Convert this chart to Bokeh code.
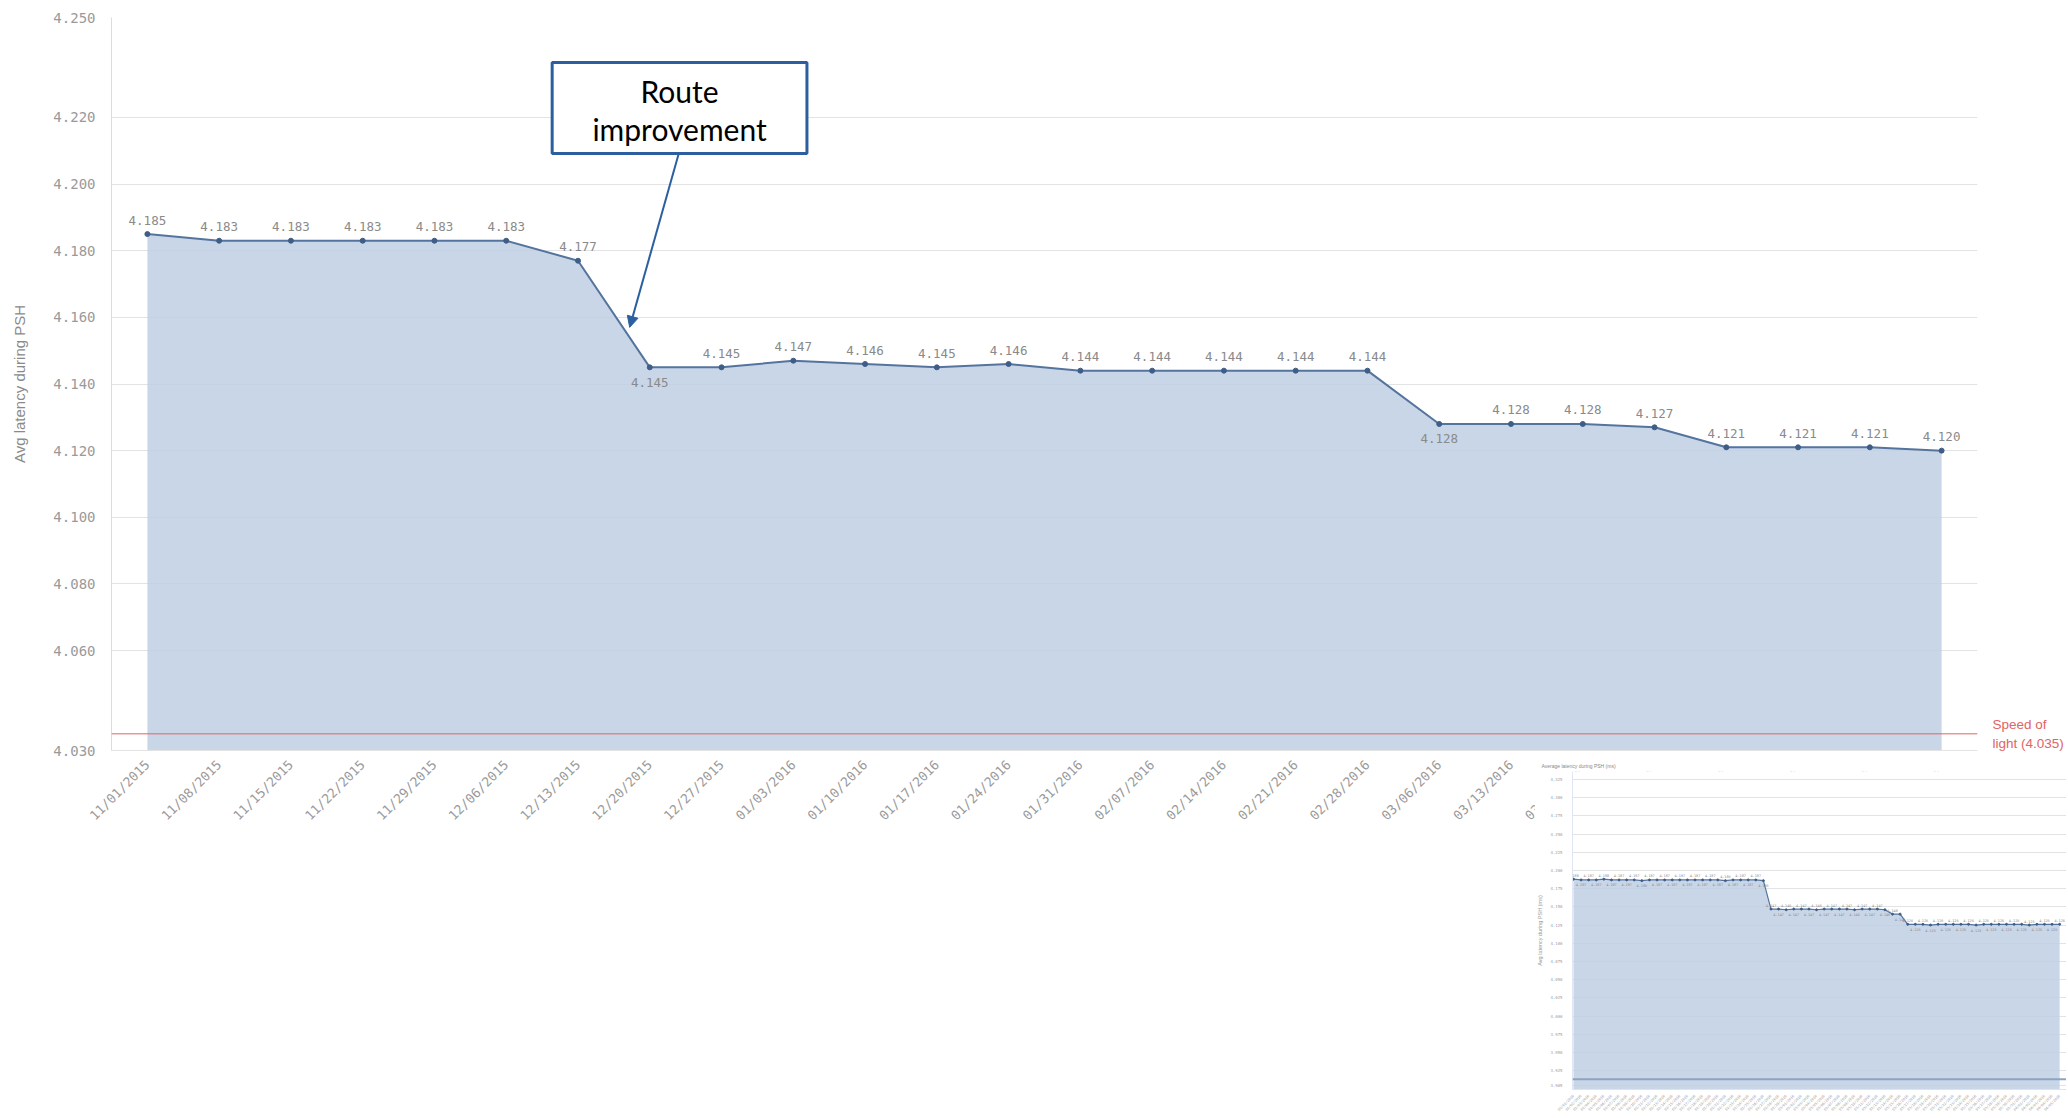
from math import pi
from bokeh.plotting import figure
from bokeh.models import (Range1d, FixedTicker, NumeralTickFormatter, ColumnDataSource,
                          BoxAnnotation, Label, LabelSet, Arrow, NormalHead, Span, LinearAxis, Spacer)
from bokeh.layouts import column, row
from bokeh.embed import file_html
from bokeh.resources import INLINE
from bokeh.core.properties import value

# ---------------- data: main chart ----------------
dates = ["11/01/2015", "11/08/2015", "11/15/2015", "11/22/2015", "11/29/2015", "12/06/2015",
         "12/13/2015", "12/20/2015", "12/27/2015", "01/03/2016", "01/10/2016", "01/17/2016",
         "01/24/2016", "01/31/2016", "02/07/2016", "02/14/2016", "02/21/2016", "02/28/2016",
         "03/06/2016", "03/13/2016", "03/20/2016", "03/27/2016", "04/03/2016", "04/10/2016",
         "04/17/2016", "04/24/2016"]
latency = [4.185, 4.183, 4.183, 4.183, 4.183, 4.183, 4.177, 4.145, 4.145, 4.147, 4.146, 4.145,
           4.146, 4.144, 4.144, 4.144, 4.144, 4.144, 4.128, 4.128, 4.128, 4.127, 4.121, 4.121,
           4.121, 4.120]
labels_below = [7, 18]
y_ticks = [4.030, 4.060, 4.080, 4.100, 4.120, 4.140, 4.160, 4.180, 4.200, 4.220, 4.250]
y_min, y_max = 4.030, 4.250
speed_of_light = 4.035
speed_text = "Speed of\nlight (4.035)"
y_title = "Avg latency during PSH"
note_text = "Route\nimprovement"

# ---------------- data: inset thumbnail ----------------
inset_title = "Average latency during PSH (ms)"
inset_dates = [
    "02/01/2016", "02/02/2016", "02/03/2016", "02/04/2016", "02/05/2016", "02/06/2016", "02/07/2016",
    "02/08/2016", "02/09/2016", "02/10/2016", "02/11/2016", "02/12/2016", "02/13/2016", "02/14/2016",
    "02/15/2016", "02/16/2016", "02/17/2016", "02/18/2016", "02/19/2016", "02/20/2016", "02/21/2016",
    "02/22/2016", "02/23/2016", "02/24/2016", "02/25/2016", "02/26/2016", "02/27/2016", "02/28/2016",
    "02/29/2016", "03/01/2016", "03/02/2016", "03/03/2016", "03/04/2016", "03/05/2016", "03/06/2016",
    "03/07/2016", "03/08/2016", "03/09/2016", "03/10/2016", "03/11/2016", "03/12/2016", "03/13/2016",
    "03/14/2016", "03/15/2016", "03/16/2016", "03/17/2016", "03/18/2016", "03/19/2016", "03/20/2016",
    "03/21/2016", "03/22/2016", "03/23/2016", "03/24/2016", "03/25/2016", "03/26/2016", "03/27/2016",
    "03/28/2016", "03/29/2016", "03/30/2016", "03/31/2016", "04/01/2016", "04/02/2016", "04/03/2016",
    "04/04/2016", "04/05/2016"]
inset_values = [
    4.188, 4.187, 4.187, 4.187, 4.188, 4.187, 4.187, 4.187, 4.187, 4.186, 4.187, 4.187, 4.187,
    4.187, 4.187, 4.187, 4.187, 4.187, 4.187, 4.187, 4.186, 4.187, 4.187, 4.187, 4.187, 4.186,
    4.147, 4.147, 4.146, 4.147, 4.147, 4.147, 4.146, 4.147, 4.147, 4.147, 4.147, 4.146, 4.147,
    4.147, 4.147, 4.146, 4.140, 4.140,
    4.126, 4.126, 4.126, 4.125, 4.126, 4.126, 4.126, 4.126, 4.126, 4.125, 4.126, 4.126, 4.126,
    4.126, 4.126, 4.126, 4.125, 4.126, 4.126, 4.126, 4.126]
inset_ticks = [3.905, 3.925, 3.950, 3.975, 4.000, 4.025, 4.050, 4.075, 4.100, 4.125, 4.150,
               4.175, 4.200, 4.225, 4.250, 4.275, 4.300, 4.325]
inset_min, inset_max = 3.899, 4.336
inset_line = 3.913

# ---------------- styles ----------------
FILL = "#bfcfe4"
LINE = "#54749e"
DOT = "#3e5d87"
GRID = "#e3e3e3"
TXT = "#9a9a9a"
MONO = "DejaVu Sans Mono"
BLUE = "#2b5f9f"
RED = "#e06464"

n = len(latency)
xs = list(range(n))
src = ColumnDataSource(dict(
    x=xs, y=latency,
    txt=["%.3f" % v for v in latency],
    off=[-15 if i in labels_below else 14 for i in xs],
))

MAIN_H = 834
p = figure(width=2066, height=MAIN_H, x_range=Range1d(-0.5, n - 0.5), y_range=Range1d(y_min, y_max),
           output_backend="svg", toolbar_location=None,
           min_border_left=111, min_border_right=87, min_border_top=17, min_border_bottom=84)
p.outline_line_color = None
p.background_fill_color = "white"
p.border_fill_color = "white"

p.varea(x="x", y1=y_min, y2="y", source=src, fill_color=FILL, fill_alpha=0.85)
p.line(x="x", y="y", source=src, line_color=LINE, line_width=2)
p.scatter(x="x", y="y", source=src, size=5, fill_color=DOT, line_color=DOT)
p.add_layout(LabelSet(x="x", y="y", text="txt", y_offset="off", source=src,
                      text_align="center", text_baseline="middle",
                      text_font=value(MONO), text_font_size="12.5px", text_color="#8a8a8a"))

p.add_layout(Span(location=speed_of_light, dimension="width", line_color=RED, line_width=1))
right_axis = LinearAxis(ticker=FixedTicker(ticks=[speed_of_light]),
                        major_label_overrides={speed_of_light: speed_text})
right_axis.axis_line_color = None
right_axis.major_tick_line_color = None
right_axis.minor_tick_line_color = None
right_axis.major_label_standoff = 9
right_axis.major_label_text_font = "Liberation Sans"
right_axis.major_label_text_font_size = "13.5px"
right_axis.major_label_text_color = RED
right_axis.major_label_text_line_height = 1.3
p.add_layout(right_axis, "right")

# y axis
p.yaxis[0].ticker = FixedTicker(ticks=y_ticks)
p.yaxis[0].formatter = NumeralTickFormatter(format="0.000")
p.yaxis[0].axis_label = y_title
p.yaxis[0].axis_label_text_font = "Liberation Sans"
p.yaxis[0].axis_label_text_font_style = "normal"
p.yaxis[0].axis_label_text_font_size = "15px"
p.yaxis[0].axis_label_text_color = "#8a8a8a"
p.yaxis[0].axis_label_standoff = 22
p.yaxis[0].major_label_text_font = MONO
p.yaxis[0].major_label_text_font_size = "14px"
p.yaxis[0].major_label_text_color = TXT
p.yaxis[0].major_label_standoff = 10
p.yaxis[0].axis_line_color = "#dcdcdc"
p.yaxis[0].major_tick_line_color = None
p.yaxis[0].minor_tick_line_color = None

# x axis
p.xaxis.ticker = FixedTicker(ticks=xs)
p.xaxis.major_label_overrides = {i: d for i, d in zip(xs, dates)}
p.xaxis.major_label_orientation = pi / 4
p.xaxis.major_label_text_font = MONO
p.xaxis.major_label_text_font_size = "13px"
p.xaxis.major_label_text_color = TXT
p.xaxis.major_label_standoff = 6
p.xaxis.axis_line_color = "#e3e3e3"
p.xaxis.major_tick_line_color = None
p.xaxis.minor_tick_line_color = None

p.xgrid.grid_line_color = None
p.ygrid.ticker = FixedTicker(ticks=y_ticks)
p.ygrid.grid_line_color = GRID

# annotation box + arrow
p.add_layout(BoxAnnotation(left=5.64, right=9.19, bottom=4.2092, top=4.2365,
                           fill_color="white", fill_alpha=1.0, line_color=BLUE, line_alpha=1.0,
                           line_width=3))
p.add_layout(Label(x=7.415, y=4.2222, text=note_text, text_align="center", text_baseline="middle",
                   text_font="Lato", text_font_size="30px", text_color="black", text_line_height=1.07))
p.add_layout(Arrow(end=NormalHead(size=11, fill_color=BLUE, line_color=BLUE),
                   x_start=7.40, y_start=4.2089, x_end=6.72, y_end=4.157,
                   line_color=BLUE, line_width=2))

# ---------------- inset ----------------
m = len(inset_values)
ixs = list(range(m))
isrc = ColumnDataSource(dict(
    x=ixs, y=inset_values,
    txt=["%.3f" % v for v in inset_values],
    off=[4 if i % 2 == 0 else -5 for i in ixs],
))
INSET_TOP, INSET_LEFT, INSET_H = 754, 1534, 362
ins = figure(width=532, height=INSET_H, x_range=Range1d(-0.13, 64.9), y_range=Range1d(inset_min, inset_max),
             output_backend="svg", toolbar_location=None,
             min_border_left=34, min_border_right=0, min_border_top=17, min_border_bottom=24)
ins.styles = {"position": "relative", "z-index": "5"}
ins.outline_line_color = None
ins.background_fill_color = "white"
ins.border_fill_color = "white"
ins.title.text = inset_title
ins.title.text_font = "Liberation Sans"
ins.title.text_font_size = "5px"
ins.title.text_font_style = "normal"
ins.title.text_color = "#888888"
ins.title.align = "left"
ins.title.offset = -31
ins.title.standoff = 6
ins.varea(x="x", y1=inset_min, y2="y", source=isrc, fill_color=FILL, fill_alpha=0.85)
ins.line(x="x", y="y", source=isrc, line_color=LINE, line_width=1.2)
ins.scatter(x="x", y="y", source=isrc, size=2, fill_color=DOT, line_color=DOT)
ins.add_layout(LabelSet(x="x", y="y", text="txt", y_offset="off", source=isrc,
                        text_align="center", text_baseline="middle",
                        text_font=value(MONO), text_font_size="3.5px", text_color="#8a8a8a"))
ins.add_layout(Span(location=inset_line, dimension="width", line_color="#8ea3c0", line_width=2))
ins.yaxis.ticker = FixedTicker(ticks=inset_ticks)
ins.yaxis.formatter = NumeralTickFormatter(format="0.000")
ins.yaxis.axis_label = y_title + " (ms)"
ins.yaxis.axis_label_text_font = "Liberation Sans"
ins.yaxis.axis_label_text_font_style = "normal"
ins.yaxis.axis_label_text_font_size = "5.5px"
ins.yaxis.axis_label_text_color = "#9a9a9a"
ins.yaxis.axis_label_standoff = 4
ins.yaxis.major_label_text_font = MONO
ins.yaxis.major_label_text_font_size = "4px"
ins.yaxis.major_label_text_color = TXT
ins.yaxis.major_label_standoff = 4
ins.yaxis.axis_line_color = "#dde6f2"
ins.yaxis.major_tick_line_color = None
ins.yaxis.minor_tick_line_color = None
ins.xaxis.ticker = FixedTicker(ticks=ixs)
ins.xaxis.major_label_overrides = {i: d for i, d in zip(ixs, inset_dates)}
ins.xaxis.major_label_orientation = pi / 4
ins.xaxis.major_label_text_font = MONO
ins.xaxis.major_label_text_font_size = "3.5px"
ins.xaxis.major_label_text_color = TXT
ins.xaxis.major_label_standoff = 0
ins.xaxis.axis_line_color = "#e3e3e3"
ins.xaxis.major_tick_line_color = None
ins.xaxis.minor_tick_line_color = None
ins.xgrid.grid_line_color = None
ins.ygrid.ticker = FixedTicker(ticks=inset_ticks)
ins.ygrid.grid_line_color = GRID

inset_row = row(Spacer(width=INSET_LEFT, height=10), ins)
inset_row.margin = (INSET_TOP - MAIN_H, 0, 0, 0)
layout = column(p, inset_row)
open("out.html", "w").write(file_html(layout, INLINE))
